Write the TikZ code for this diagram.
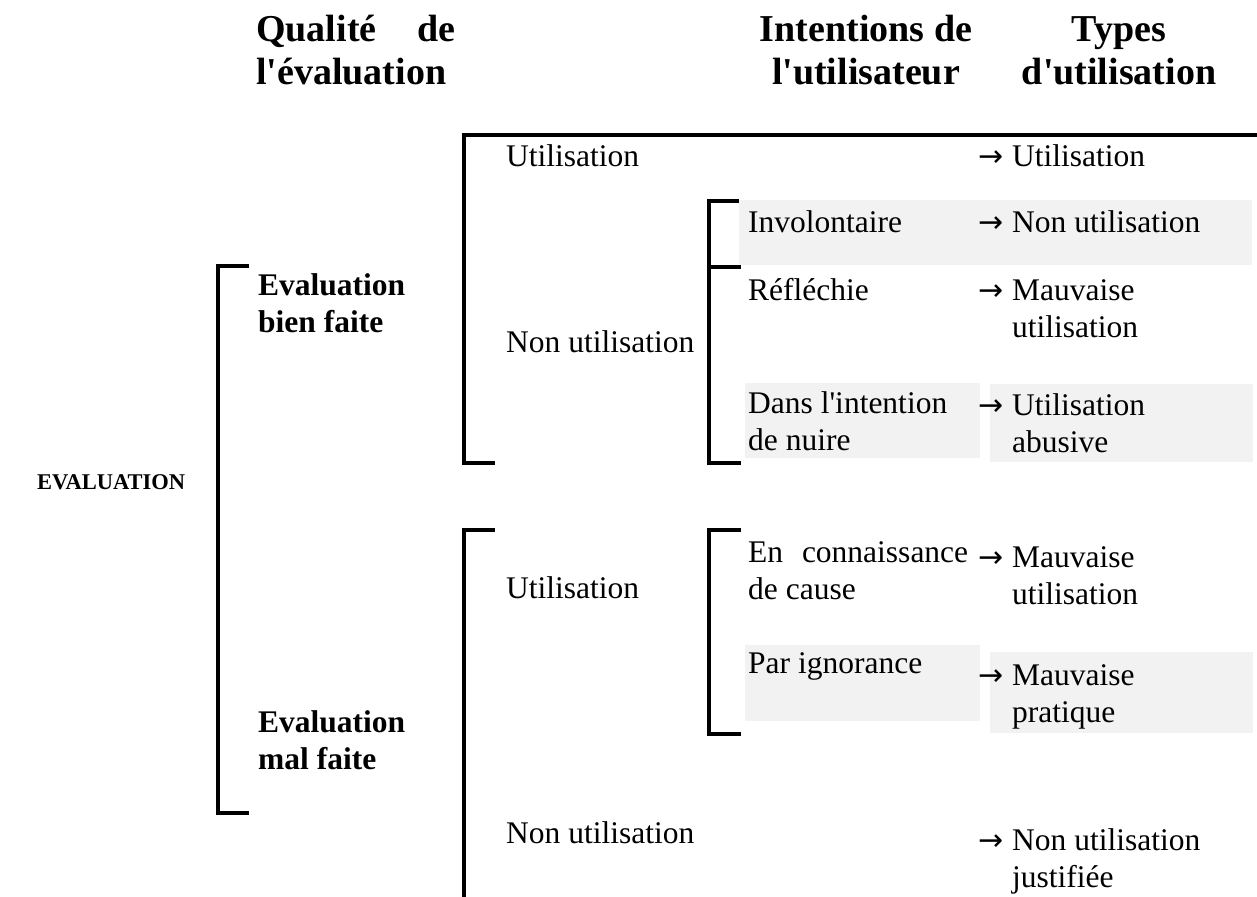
\documentclass[tikz,border=0pt]{standalone}
\usepackage{fontspec}
\setmainfont{Liberation Serif}[Ligatures=TeXOff]
\newfontfamily\arrowfont{DejaVu Sans}
\newcommand\twolines[2]{\vtop{\baselineskip=37pt\hbox{#1}\hbox{#2}}}
\newcommand\headc[2]{\vtop{\baselineskip=43pt\halign{\hfil##\hfil\cr #1\cr #2\cr}}}
\tikzset{
  txt/.style={anchor=base west, inner sep=0pt, font=\fontsize{31.5}{37}\selectfont},
  arr/.style={anchor=base west, inner sep=0pt, font=\arrowfont\fontsize{30}{37}\selectfont},
  btxt/.style={anchor=base west, inner sep=0pt, font=\bfseries\fontsize{31.5}{37}\selectfont},
  head/.style={anchor=base, inner sep=0pt, font=\bfseries\fontsize{38}{43}\selectfont},
  brk/.style={line width=4pt, line cap=rect},
  shade/.style={fill=black!5, draw=none},
}
\begin{document}
\begin{tikzpicture}[x=1pt,y=-1pt]
\useasboundingbox (0,0) rectangle (1257,896);
% shaded boxes
\fill[shade] (739,200) rectangle (1252,265);
\fill[shade] (745,383) rectangle (980,458);
\fill[shade] (990,384) rectangle (1253,462);
\fill[shade] (745,645) rectangle (980,721);
\fill[shade] (990,652) rectangle (1253,733);
% headers
\node[head, anchor=base west] (hq) at (256,42) {\vtop{\baselineskip=43pt\hbox to 199pt{Qualité\hfill de}\hbox{l'évaluation}}};
\node[head] (hi) at (866,42) {\headc{Intentions de}{l'utilisateur}};
\node[head] (ht) at (1119,42) {\headc{Types}{d'utilisation}};
% root
\node[anchor=base west, inner sep=0pt, font=\bfseries\fontsize{22.5}{27}\selectfont] (ev) at (37,489) {EVALUATION};
% brackets
\coordinate (b0t) at (218,266); \coordinate (b0b) at (218,813);
\draw[brk] (247,266) -- (b0t) -- (b0b) -- (247,813);
\coordinate (b1t) at (464,135); \coordinate (b1b) at (464,463);
\draw[brk] (1257,135) -- (b1t) -- (b1b) -- (493,463);
\coordinate (b2t) at (464,530); \coordinate (b2b) at (464,900);
\draw[brk] (493,530) -- (b2t) -- (b2b);
\coordinate (b3t) at (709,201); \coordinate (b3b) at (709,463);
\draw[brk] (737,201) -- (b3t) -- (b3b) -- (739,463);
\draw[brk] (709,267) -- (739,267);
\coordinate (b4t) at (709,530); \coordinate (b4b) at (709,734);
\draw[brk] (739,530) -- (b4t) -- (b4b) -- (739,734);
% level 1
\node[btxt] (bf) at (258,295) {\twolines{Evaluation}{bien faite}};
\node[btxt] (mf) at (258,732) {\twolines{Evaluation}{mal faite}};
% level 2
\node[txt] (u1) at (506,167) {Utilisation};
\node[txt] (n1) at (506,352) {Non utilisation};
\node[txt] (u2) at (506,598) {Utilisation};
\node[txt] (n2) at (506,843) {Non utilisation};
% level 3
\node[txt] (i1) at (748,232) {Involontaire};
\node[txt] (i2) at (748,300) {Réfléchie};
\node[txt] (i3) at (748,413) {\twolines{Dans l'intention}{de nuire}};
\node[txt] (i4) at (748,562) {\twolines{\hbox to 220pt{En\hfill connaissance}}{de cause}};
\node[txt] (i5) at (748,673) {Par ignorance};
% level 4
\node[arr] (a1) at (978,167) {→}; \node[txt] (t1) at (1012,167) {Utilisation};
\node[arr] (a2) at (978,232) {→}; \node[txt] (t2) at (1012,232) {Non utilisation};
\node[arr] (a3) at (978,300) {→}; \node[txt] (t3) at (1012,300) {\twolines{Mauvaise}{utilisation}};
\node[arr] (a4) at (978,415) {→}; \node[txt] (t4) at (1012,415) {\twolines{Utilisation}{abusive}};
\node[arr] (a5) at (978,567) {→}; \node[txt] (t5) at (1012,567) {\twolines{Mauvaise}{utilisation}};
\node[arr] (a6) at (978,685) {→}; \node[txt] (t6) at (1012,685) {\twolines{Mauvaise}{pratique}};
\node[arr] (a7) at (978,850) {→}; \node[txt] (t7) at (1012,850) {\twolines{Non utilisation}{justifiée}};
\end{tikzpicture}
\end{document}
